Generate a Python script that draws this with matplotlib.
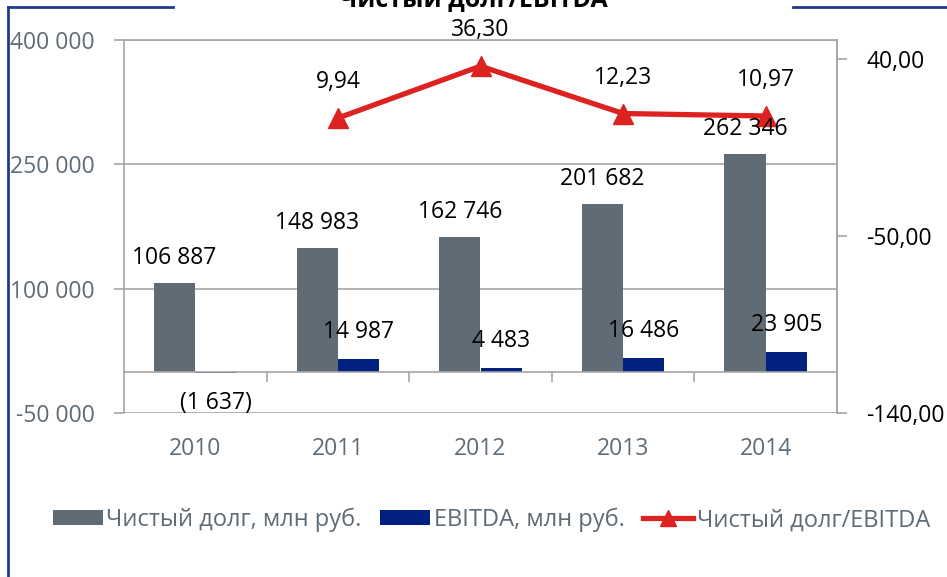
import matplotlib
matplotlib.use("Agg")
import matplotlib.pyplot as plt
from matplotlib.lines import Line2D
from matplotlib.patches import Patch
import numpy as np

years = ["2010", "2011", "2012", "2013", "2014"]
net_debt = [106887, 148983, 162746, 201682, 262346]
ebitda = [-1637, 14987, 4483, 16486, 23905]
ratio_years = ["2011", "2012", "2013", "2014"]
ratio = [9.94, 36.30, 12.23, 10.97]

left_ticks = [-50000, 100000, 250000, 400000]
right_ticks = [-140, -50, 40]

GRAY = "#5F6B75"
NAVY = "#00217F"
RED = "#DD2222"
GRID = "#A6A6A6"
FRAME = "#1F3A8F"

plt.rcParams["font.family"] = ["Open Sans", "DejaVu Sans"]
FS = 16.5


def fmt_thousands(v):
    return f"{abs(v):,.0f}".replace(",", " ")


def fmt_left(v):
    return ("-" if v < 0 else "") + fmt_thousands(v)


def fmt_bar(v):
    return f"({fmt_thousands(v)})" if v < 0 else fmt_thousands(v)


def fmt_ratio(v):
    return f"{v:.2f}".replace(".", ",")


fig = plt.figure(figsize=(9.47, 5.77), dpi=100)
ax = fig.add_axes([124 / 947, 1 - 413 / 577, 713 / 947, 373 / 577])
ax2 = ax.twinx()

x = np.arange(len(years))
w = 0.29
ax.bar(x - w / 2, net_debt, width=w, color=GRAY, zorder=2)
ax.bar(x + w / 2, ebitda, width=w, color=NAVY, zorder=2)

ax.set_xlim(-0.5, len(years) - 0.5)
ax.set_ylim(-50000, 400000)
ax.set_yticks(left_ticks)
ax.set_yticklabels([fmt_left(v) for v in left_ticks], color=GRAY, fontsize=FS)
ax.yaxis.grid(True, color=GRID, linewidth=1.2, zorder=0)
ax.set_axisbelow(True)

# x axis sits at zero, ticks mark category boundaries
ax.spines["bottom"].set_position(("data", 0))
ax.set_xticks(x[:-1] + 0.5)
ax.set_xticklabels([])
ax.tick_params(axis="x", direction="out", length=7, color=GRID, width=1.2)
ax.tick_params(axis="y", direction="out", length=7, color=GRID, width=1.2, pad=14)
for sp in ax.spines.values():
    sp.set_color(GRID)
    sp.set_linewidth(1.2)

for xi, name in zip(x, years):
    ax.text(xi, -0.097, name, transform=ax.get_xaxis_transform(), ha="center",
            va="center", fontsize=FS, color=GRAY)

for xi, v in zip(x, net_debt):
    ax.annotate(fmt_bar(v), (xi - w / 2, v), xytext=(0, 25), textcoords="offset pixels",
                ha="center", va="center", fontsize=FS, color="black", zorder=6)
for xi, v in zip(x, ebitda):
    off = 27 if v >= 0 else -30
    ax.annotate(fmt_bar(v), (xi + w / 2, v), xytext=(0, off), textcoords="offset pixels",
                ha="center", va="center", fontsize=FS, color="black", zorder=6)

# ratio line on secondary axis
rx = [years.index(y) for y in ratio_years]
ax2.plot(rx, ratio, color=RED, linewidth=3.8, marker="^", markersize=14, zorder=4)
ax2.set_ylim(-140, 49.6)
ax2.set_yticks(right_ticks)
ax2.set_yticklabels([fmt_ratio(v) for v in right_ticks], fontsize=FS, color="black")
ax2.tick_params(axis="y", direction="out", length=7, color=GRID, width=1.2, pad=14)
for name, sp in ax2.spines.items():
    sp.set_visible(name == "right")
    sp.set_color(GRID)
    sp.set_linewidth(1.2)
for xi, v in zip(rx, ratio):
    ax2.annotate(fmt_ratio(v), (xi, v), xytext=(0, 36), textcoords="offset pixels",
                 ha="center", va="center", fontsize=FS, color="black", zorder=6)

# bar labels must sit above the red line, so the bar axis goes on top
ax2.set_zorder(ax.get_zorder() - 1)
ax.patch.set_visible(False)
ax2.patch.set_visible(True)

# title (cut at the top edge like the source)
fig.text(0.5, 1 - 7 / 577, "Чистый долг/EBITDA", ha="center", va="baseline",
         fontsize=18, fontweight="bold", color="black")

# decorative blue frame
fig.add_artist(Line2D([8 / 947, 8 / 947], [0, 1 - 6.5 / 577], transform=fig.transFigure,
                      color=FRAME, linewidth=2))
fig.add_artist(Line2D([8 / 947, 173 / 947], [1 - 6.5 / 577, 1 - 6.5 / 577],
                      transform=fig.transFigure, color=FRAME, linewidth=2))
fig.add_artist(Line2D([793 / 947, 1], [1 - 6.5 / 577, 1 - 6.5 / 577],
                      transform=fig.transFigure, color=FRAME, linewidth=2))

handles = [
    Patch(facecolor=GRAY, label="Чистый долг, млн руб."),
    Patch(facecolor=NAVY, label="EBITDA, млн руб."),
    Line2D([], [], color=RED, linewidth=3.8, marker="^", markersize=12,
           label="Чистый долг/EBITDA"),
]
fig.legend(handles=handles, loc="center", bbox_to_anchor=(0.519, 1 - 520 / 577), ncol=3,
           frameon=False, fontsize=17, labelcolor=GRAY, handlelength=2.1,
           handleheight=0.6, handletextpad=0.15, columnspacing=0.8)

fig.savefig("out.png", dpi=100)
